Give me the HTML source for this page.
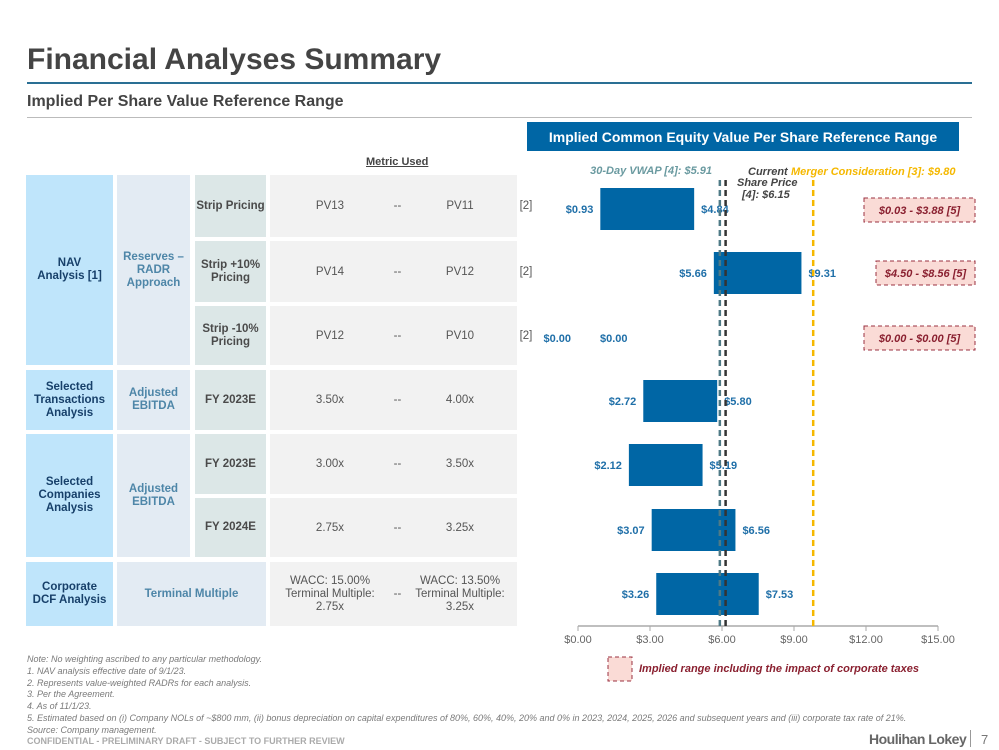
<!DOCTYPE html>
<html><head><meta charset="utf-8">
<style>
body{margin:0;width:999px;height:750px;background:#fff;font-family:"Liberation Sans",Arial,sans-serif;position:relative;overflow:hidden}
.a{position:absolute}
.c{position:absolute;display:flex;align-items:center;justify-content:center;text-align:center;font-weight:bold;font-size:11.5px;line-height:13px}
.c1{background:#bfe5fb;color:#17406a}
.c2{background:#e3ebf3;color:#4e86a8}
.c3{background:#dce7e7;color:#4a4a4a}
.c4{background:#f2f2f2;color:#555;font-weight:normal}
.v{position:absolute;font-size:11.5px;color:#555;text-align:center;line-height:13px}
.fn{font-size:9px;font-style:italic;color:#7a7a7a;line-height:11.8px}
</style></head><body>
<div class="a" style="left:27px;top:43px;font-size:30px;font-weight:bold;color:#444">Financial Analyses Summary</div>
<div class="a" style="left:27px;top:82px;width:945px;height:2px;background:#2a6f94"></div>
<div class="a" style="left:27px;top:93px;font-size:16px;font-weight:bold;color:#444">Implied Per Share Value Reference Range</div>
<div class="a" style="left:27px;top:117px;width:945px;height:1px;background:#bbb"></div>
<div class="a" style="left:527px;top:122px;width:432px;height:29px;background:#0066a5;color:#fff;font-weight:bold;font-size:14px;display:flex;align-items:center;justify-content:center">Implied Common Equity Value Per Share Reference Range</div>
<div class="a" style="left:366px;top:156px;font-size:11px;font-weight:bold;color:#444;text-decoration:underline">Metric Used</div>

<div class="c c1" style="left:26px;top:175px;width:87px;height:190px">NAV<br>Analysis [1]</div>
<div class="c c2" style="left:117px;top:175px;width:73px;height:190px">Reserves –<br>RADR<br>Approach</div>
<div class="c c3" style="left:195px;top:175px;width:71px;height:62px">Strip Pricing</div>
<div class="c c3" style="left:195px;top:241px;width:71px;height:61px">Strip +10%<br>Pricing</div>
<div class="c c3" style="left:195px;top:306px;width:71px;height:59px">Strip -10%<br>Pricing</div>
<div class="c c1" style="left:26px;top:370px;width:87px;height:60px">Selected<br>Transactions<br>Analysis</div>
<div class="c c2" style="left:117px;top:370px;width:73px;height:60px">Adjusted<br>EBITDA</div>
<div class="c c3" style="left:195px;top:370px;width:71px;height:60px">FY 2023E</div>
<div class="c c1" style="left:26px;top:434px;width:87px;height:123px">Selected<br>Companies<br>Analysis</div>
<div class="c c2" style="left:117px;top:434px;width:73px;height:123px">Adjusted<br>EBITDA</div>
<div class="c c3" style="left:195px;top:434px;width:71px;height:60px">FY 2023E</div>
<div class="c c3" style="left:195px;top:498px;width:71px;height:59px">FY 2024E</div>
<div class="c c1" style="left:26px;top:562px;width:87px;height:64px">Corporate<br>DCF Analysis</div>
<div class="c c2" style="left:117px;top:562px;width:149px;height:64px">Terminal Multiple</div>

<div class="c c4" style="left:270px;top:175px;width:247px;height:62px"></div>
<div class="c c4" style="left:270px;top:241px;width:247px;height:61px"></div>
<div class="c c4" style="left:270px;top:306px;width:247px;height:59px"></div>
<div class="c c4" style="left:270px;top:370px;width:247px;height:60px"></div>
<div class="c c4" style="left:270px;top:434px;width:247px;height:60px"></div>
<div class="c c4" style="left:270px;top:498px;width:247px;height:59px"></div>
<div class="c c4" style="left:270px;top:562px;width:247px;height:64px"></div>

<div id="vals"></div>

<svg class="a" style="left:0;top:0" width="999" height="750" id="chart"></svg>

<div class="a fn" style="left:27px;top:654px;width:960px">Note: No weighting ascribed to any particular methodology.<br>1. NAV analysis effective date of 9/1/23.<br>2. Represents value-weighted RADRs for each analysis.<br>3. Per the Agreement.<br>4. As of 11/1/23.<br>5. Estimated based on (i) Company NOLs of ~$800 mm, (ii) bonus depreciation on capital expenditures of 80%, 60%, 40%, 20% and 0% in 2023, 2024, 2025, 2026 and subsequent years and (iii) corporate tax rate of 21%.<br>Source: Company management.</div>
<div class="a" style="left:27px;top:736px;font-size:9px;font-weight:bold;color:#aaa">CONFIDENTIAL - PRELIMINARY DRAFT - SUBJECT TO FURTHER REVIEW</div>
<div class="a" style="left:869px;top:731px;font-size:14px;font-weight:bold;color:#666;letter-spacing:-0.5px">Houlihan Lokey</div>
<div class="a" style="left:970px;top:730px;width:1px;height:17px;background:#999"></div>
<div class="a" style="left:981px;top:732px;font-size:13px;color:#777">7</div>

<script>
const lowVals=["PV13","PV14","PV12","3.50x","3.00x","2.75x","WACC: 15.00%<br>Terminal Multiple:<br>2.75x"];
const highVals=["PV11","PV12","PV10","4.00x","3.50x","3.25x","WACC: 13.50%<br>Terminal Multiple:<br>3.25x"];
const notes=["[2]","[2]","[2]","","","",""];
const rowCenters=[206,272,336,400,464,528,594];
const vals=document.getElementById('vals');
rowCenters.forEach((y,i)=>{
  const mk=(x,w,html,n)=>{const d=document.createElement('div');d.className='v';d.style.left=x+'px';d.style.width=w+'px';d.innerHTML=html;vals.appendChild(d);d.style.top=(y-d.offsetHeight/2)+'px';
    
    };
  mk(280,100,lowVals[i],'metric-low-'+i);
  mk(385,25,'--','metric-sep-'+i);
  mk(410,100,highVals[i],'metric-high-'+i);
  if(notes[i]) mk(515,22,notes[i],'metric-note-'+i);
});

const lows=[0.93,5.66,0.00,2.72,2.12,3.07,3.26];
const highs=[4.84,9.31,0.00,5.80,5.19,6.56,7.53];
const barCenters=[209,273,338,401,465,530,594];
const ticks=[0,3,6,9,12,15];
const vwap=5.91, current=6.15, merger=9.80;
const taxRows=[0,1,2];
const taxLabels=["$0.03 - $3.88 [5]","$4.50 - $8.56 [5]","$0.00 - $0.00 [5]"];
const taxBoxX=[864,876,864];

const NS="http://www.w3.org/2000/svg";
const svg=document.getElementById('chart');
const X=v=>578+v*24;
function el(t,a,txt){const e=document.createElementNS(NS,t);for(const k in a)e.setAttribute(k,a[k]);if(txt!==undefined)e.textContent=txt;svg.appendChild(e);return e;}
const fmt=v=>'$'+v.toFixed(2);
let ax=el('line',{x1:X(0),x2:X(15),y1:626,y2:626,stroke:'#aaa','stroke-width':1.5});


ticks.forEach(t=>{
  let l=el('line',{x1:X(t),x2:X(t),y1:626,y2:631,stroke:'#aaa'});
  
  
  let tx=el('text',{x:X(t),y:643,'text-anchor':'middle','font-size':11,fill:'#666'},fmt(t));
  
  
});
lows.forEach((lo,i)=>{
  const y=barCenters[i];
  if(highs[i]>lo){
    let r=el('rect',{x:X(lo),y:y-21,width:X(highs[i])-X(lo),height:42,fill:'#0066a5'});
    
    
  }
  let a=el('text',{x:X(lo)-7,y:y+4,'text-anchor':'end','font-size':11,'font-weight':'bold',fill:'#1f6fa8'},fmt(lo));
  
  
  const hx=highs[i]>lo?X(highs[i])+7:X(lo)+22;
  let b=el('text',{x:hx,y:y+4,'text-anchor':'start','font-size':11,'font-weight':'bold',fill:'#1f6fa8'},fmt(highs[i]));
  
  
});
[[vwap,'#4f7a86'],[current,'#333'],[merger,'#f5b800']].forEach(([v,c],k)=>{
  let l=el('line',{x1:X(v),x2:X(v),y1:180,y2:630,stroke:c,'stroke-width':2.5,'stroke-dasharray':'6,4'});
  
  
});
let t1=el('text',{x:712,y:174,'text-anchor':'end','font-size':11,'font-weight':'bold','font-style':'italic',fill:'#6a9aa0'},'30-Day VWAP [4]: $5.91');

let t2=el('text',{x:748,y:175,'font-size':11,'font-weight':'bold','font-style':'italic',fill:'#444'},'Current');

el('text',{x:737,y:186,'font-size':11,'font-weight':'bold','font-style':'italic',fill:'#444'},'Share Price');
el('text',{x:742,y:198,'font-size':11,'font-weight':'bold','font-style':'italic',fill:'#444'},'[4]: $6.15');
let t3=el('text',{x:791,y:175,'font-size':11,'font-weight':'bold','font-style':'italic',fill:'#f5b800'},'Merger Consideration [3]: $9.80');

taxRows.forEach((r,k)=>{
  const y=barCenters[r]+(k==0?1:0);
  let b=el('rect',{x:taxBoxX[k],y:y-12,width:975-taxBoxX[k],height:24,fill:'#fadbd6',stroke:'#9b3040','stroke-dasharray':'4,3'});
  
  
  let t=el('text',{x:(975+taxBoxX[k])/2,y:y+4,'text-anchor':'middle','font-size':11,'font-weight':'bold','font-style':'italic',fill:'#8a2030'},taxLabels[k]);
  
  
});
let lb=el('rect',{x:608,y:657,width:24,height:24,fill:'#fadbd6',stroke:'#9b3040','stroke-dasharray':'4,3'});

let lt=el('text',{x:639,y:672,'font-size':11,'font-weight':'bold','font-style':'italic',fill:'#8a2030'},'Implied range including the impact of corporate taxes');

</script>
</body></html>
